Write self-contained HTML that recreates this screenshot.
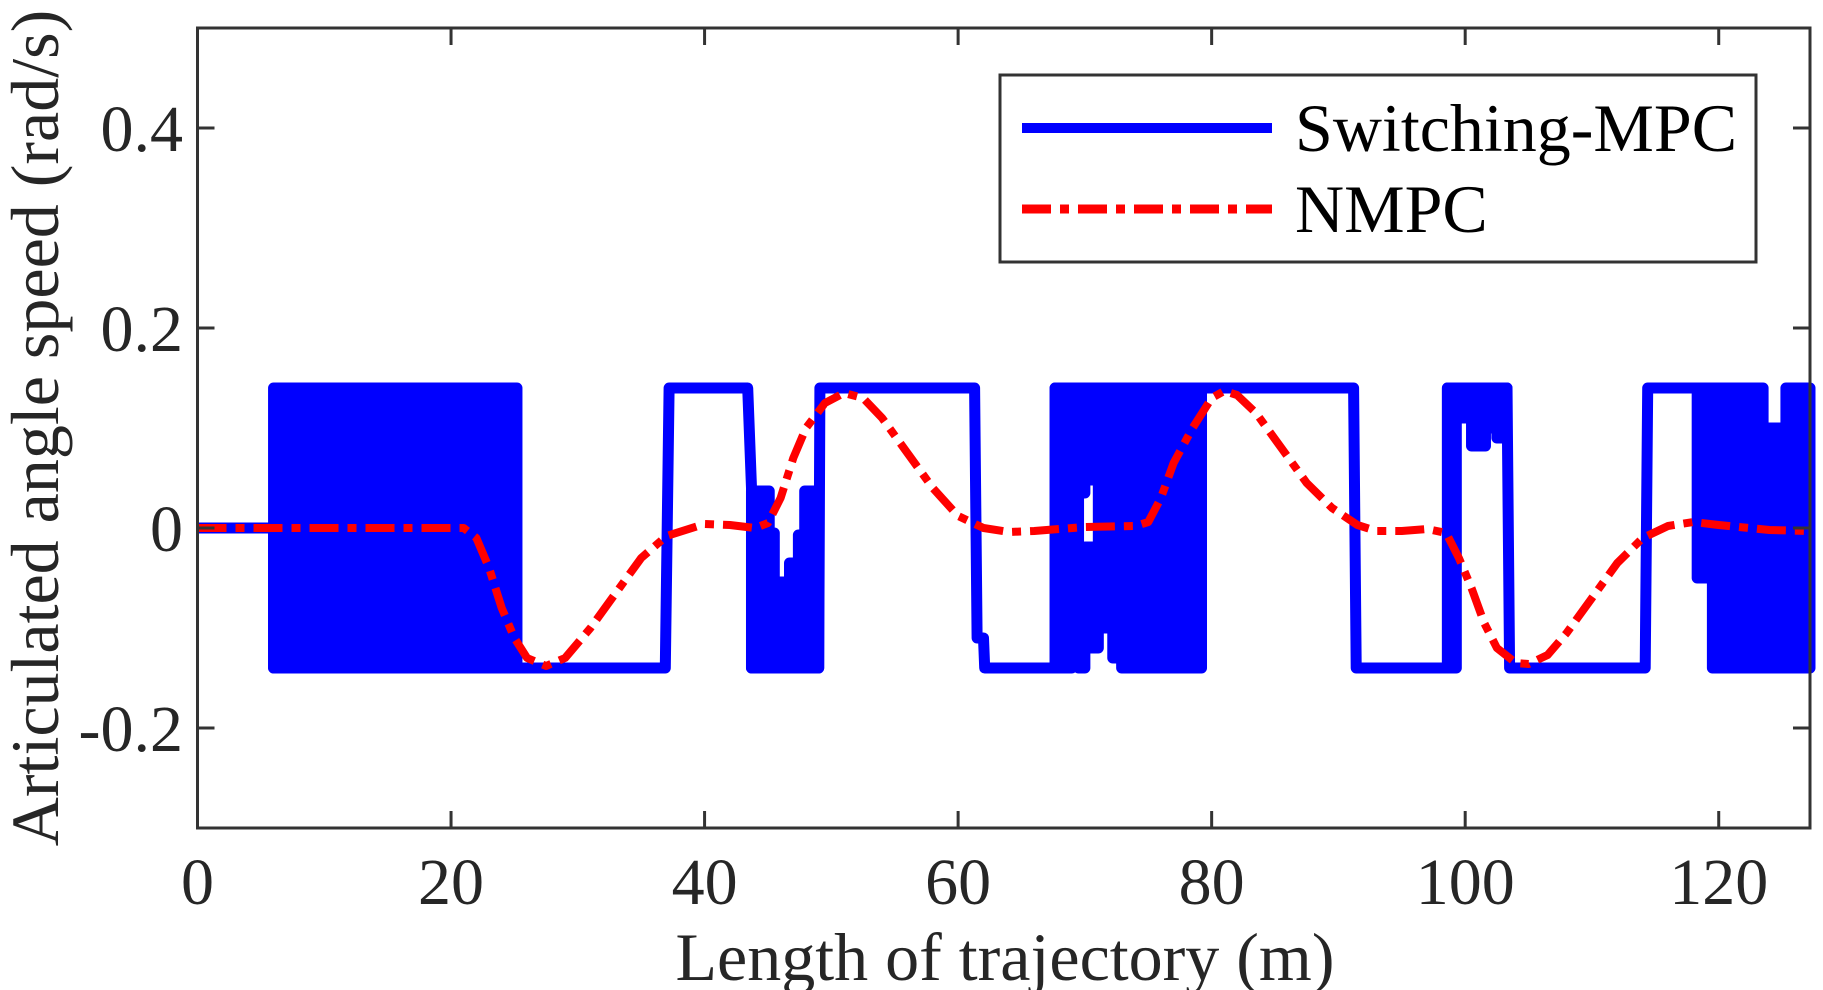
<!DOCTYPE html>
<html><head><meta charset="utf-8">
<style>
html,body{margin:0;padding:0;background:#fff;}
svg{display:block;}
text{font-family:"Liberation Serif",serif;fill:#262626;}
</style></head>
<body>
<svg id="chart" width="1823" height="990" viewBox="0 0 1823 990" xmlns="http://www.w3.org/2000/svg">
<g id="plot"></g>
<g id="axes"></g>
<g id="legend">
 <rect x="1000" y="75" width="756" height="187" fill="#fff" stroke="#333" stroke-width="3"/>
 <line x1="1022" y1="128" x2="1272" y2="128" stroke="#0000ff" stroke-width="10"/>
 <text x="1295" y="151" font-size="68" style="fill:#000">Switching-MPC</text>
 <line x1="1022" y1="209" x2="1272" y2="209" stroke="#ff0000" stroke-width="9" stroke-dasharray="29 9 9 9"/>
 <text x="1295" y="232" font-size="68" style="fill:#000">NMPC</text>
</g>
</svg>
<script>
// ---- data ----
const xTicks = [0, 20, 40, 60, 80, 100, 120];
const yTicks = [-0.2, 0, 0.2, 0.4];
const yTickLabels = ["-0.2", "0", "0.2", "0.4"];
const xDomain = [0, 127.2];
const yDomain = [-0.3, 0.5];
const switchX = [0, 6, 6, 25.4, 36.9, 37.2, 43.4, 43.7, 43.7, 49.0, 49.1, 61.3, 61.5, 62.0, 62.1, 67.65, 67.65, 79.2, 91.2, 91.4, 98.6, 98.6, 103.3, 103.5, 114.2, 114.4, 118.3];
const switchY = [0, 0, -0.14, -0.14, -0.14, 0.14, 0.14, 0.04, -0.14, -0.14, 0.14, 0.14, -0.11, -0.11, -0.14, -0.14, 0.14, 0.14, 0.14, -0.14, -0.14, 0.14, 0.14, -0.14, -0.14, 0.14, 0.14];
const chatterX0 = [6, 43.7, 45.1, 45.5, 46.7, 47.4, 47.9, 67.65, 68.96, 69.5, 69.5, 70.0, 70.0, 71.06, 72.2, 72.9, 98.6, 99.3, 100.5, 101.6, 102.5, 118.3, 119.5, 123.5, 125.3];
const chatterX1 = [25.2, 45.1, 45.5, 46.7, 47.4, 47.9, 49.0, 68.96, 69.5, 70.0, 70.0, 71.06, 71.06, 72.2, 72.9, 79.2, 99.3, 100.5, 101.6, 102.5, 103.3, 119.5, 123.5, 125.3, 127.2];
const chatterLo = [-0.14, -0.14, -0.14, -0.14, -0.14, -0.14, -0.14, -0.14, -0.12, 0.035, -0.14, 0.048, -0.12, -0.1, -0.13, -0.14, -0.14, 0.11, 0.082, 0.1, 0.09, -0.05, -0.14, -0.14, -0.14];
const chatterHi = [0.14, 0.037, -0.005, -0.054, -0.035, -0.007, 0.037, 0.14, 0.14, 0.14, -0.034, 0.14, -0.019, 0.14, 0.14, 0.14, 0.14, 0.14, 0.14, 0.14, 0.14, 0.14, 0.14, 0.1, 0.14];
const nmpcX = [0, 21, 22, 23, 24, 25, 26, 27.5, 29, 31, 33, 35, 37, 40, 42, 44, 45, 46, 47, 48, 49.5, 51, 52.5, 54, 56, 58, 60, 62, 64, 66, 70, 74, 75, 76, 77, 78.5, 80, 81, 82, 83.5, 85.5, 87.5, 89.5, 91.5, 93, 95, 97, 98.5, 99.5, 100.5, 101.5, 102.5, 104, 105, 106.5, 108, 110, 112, 114, 116, 118, 120, 124, 127.2];
const nmpcY = [0, 0, -0.01, -0.04, -0.08, -0.11, -0.13, -0.138, -0.13, -0.1, -0.065, -0.03, -0.008, 0.004, 0.003, 0.0, 0.005, 0.03, 0.07, 0.1, 0.125, 0.135, 0.13, 0.11, 0.075, 0.04, 0.012, 0.0, -0.004, -0.003, 0.001, 0.002, 0.006, 0.03, 0.065, 0.1, 0.13, 0.137, 0.133, 0.115, 0.08, 0.045, 0.02, 0.003, -0.003, -0.003, -0.001, -0.005, -0.03, -0.06, -0.095, -0.12, -0.135, -0.136, -0.127, -0.105, -0.07, -0.035, -0.01, 0.002, 0.006, 0.003, -0.002, -0.003];

// ---- layout ----
const L = 197.5, R = 1810, T = 28, B = 828;
const NS = 'http://www.w3.org/2000/svg';
function sx(v){ return L + (v - xDomain[0]) / (xDomain[1] - xDomain[0]) * (R - L); }
function sy(v){ return B - (v - yDomain[0]) / (yDomain[1] - yDomain[0]) * (B - T); }
function mk(tag, parent, attrs){
  const e = document.createElementNS(NS, tag);
  for (const k in attrs) e.setAttribute(k, attrs[k]);
  parent.appendChild(e);
  return e;
}
const plot = document.getElementById('plot');
const axes = document.getElementById('axes');

for (let i = 0; i < chatterX0.length; i++) {
  const y1 = sy(chatterHi[i]), y2 = sy(chatterLo[i]);
  const r = mk('rect', plot, {x: sx(chatterX0[i]), y: y1, width: sx(chatterX1[i]) - sx(chatterX0[i]), height: y2 - y1, fill: '#0000ff', stroke: '#0000ff', 'stroke-width': 11, 'stroke-linejoin': 'round'});
  
  
}
let d = '';
for (let i = 0; i < switchX.length; i++) d += (i ? 'L' : 'M') + sx(switchX[i]).toFixed(1) + ' ' + sy(switchY[i]).toFixed(1);
const sw = mk('path', plot, {d: d, fill: 'none', stroke: '#0000ff', 'stroke-width': 11, 'stroke-linejoin': 'round'});


d = '';
for (let i = 0; i < nmpcX.length; i++) d += (i ? 'L' : 'M') + sx(nmpcX[i]).toFixed(1) + ' ' + sy(nmpcY[i]).toFixed(1);
const nm = mk('path', plot, {d: d, fill: 'none', stroke: '#ff0000', 'stroke-width': 8, 'stroke-dasharray': '29 9 9 9', 'stroke-linejoin': 'round'});



const box = mk('rect', axes, {x: L, y: T, width: R - L, height: B - T, fill: 'none', stroke: '#333', 'stroke-width': 3});


const TL = 17;
xTicks.forEach(v => {
  const x = sx(v);
  const t1 = mk('line', axes, {x1: x, y1: B, x2: x, y2: B - TL, stroke: '#333', 'stroke-width': 3});
  
  
  const t2 = mk('line', axes, {x1: x, y1: T, x2: x, y2: T + TL, stroke: '#333', 'stroke-width': 3});
  
  
  const lb = mk('text', axes, {x: x, y: 904, 'text-anchor': 'middle', 'font-size': 66});
  lb.textContent = String(v);
  
  
});
yTicks.forEach((v, i) => {
  const y = sy(v);
  const t1 = mk('line', axes, {x1: L, y1: y, x2: L + TL, y2: y, stroke: '#333', 'stroke-width': 3});
  
  
  const t2 = mk('line', axes, {x1: R, y1: y, x2: R - TL, y2: y, stroke: '#333', 'stroke-width': 3});
  
  
  const lb = mk('text', axes, {x: 183, y: y + 23, 'text-anchor': 'end', 'font-size': 66});
  lb.textContent = yTickLabels[i];
  
  
});
const xt = mk('text', axes, {x: 1005, y: 980, 'text-anchor': 'middle', 'font-size': 68});
xt.textContent = 'Length of trajectory (m)';


const yt = mk('text', axes, {x: 0, y: 0, 'text-anchor': 'middle', 'font-size': 68, transform: 'translate(58,428) rotate(-90)'});
yt.textContent = 'Articulated angle speed (rad/s)';


</script>
</body></html>
